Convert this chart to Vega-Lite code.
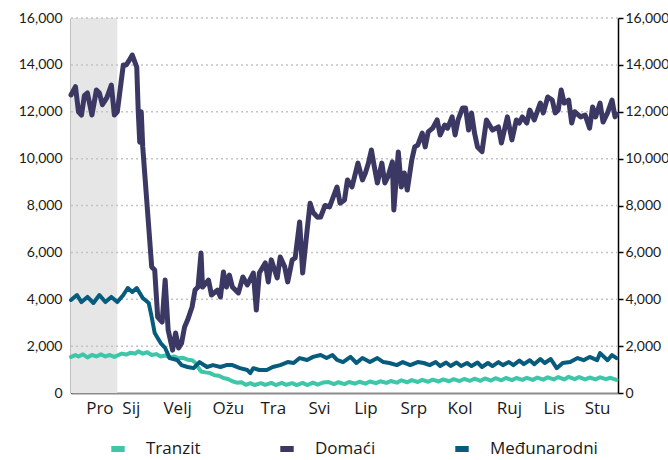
{
  "$schema": "https://vega.github.io/schema/vega-lite/v6.json",
  "width": 547,
  "height": 375,
  "autosize": {"type": "none"},
  "padding": {"left": 71, "top": 18, "right": 50, "bottom": 67},
  "background": "white",
  "config": {
    "view": {"stroke": null},
    "axisX": {"title": null, "grid": false, "ticks": false, "domainColor": "#8c8c8c", "domainWidth": 2, "labelFont": "Open Sans", "labelFontSize": 17, "labelColor": "#1a1a1a", "labelPadding": 7, "labelAngle": 0, "labelOverlap": false, "labelFlush": false},
    "axisY": {"title": null, "grid": false, "labelFont": "Lato", "labelFontSize": 14, "labelColor": "#1a1a1a", "domainColor": "#000000", "domainWidth": 1.5},
    "legend": {"labelFont": "Open Sans", "labelFontSize": 17, "labelColor": "#1a1a1a"}
  },
  "datasets": {
    "tranzit": [
      {"date": "2019-12-01", "value": 1540}, {"date": "2019-12-04", "value": 1620}, {"date": "2019-12-06", "value": 1560}, {"date": "2019-12-09", "value": 1650}, {"date": "2019-12-12", "value": 1520}, {"date": "2019-12-15", "value": 1620}, {"date": "2019-12-18", "value": 1560}, {"date": "2019-12-21", "value": 1650}, {"date": "2019-12-24", "value": 1560}, {"date": "2019-12-27", "value": 1620}, {"date": "2019-12-30", "value": 1540},
      {"date": "2020-01-01", "value": 1600}, {"date": "2020-01-04", "value": 1680}, {"date": "2020-01-07", "value": 1640}, {"date": "2020-01-10", "value": 1720}, {"date": "2020-01-13", "value": 1680}, {"date": "2020-01-15", "value": 1780}, {"date": "2020-01-18", "value": 1680}, {"date": "2020-01-21", "value": 1740}, {"date": "2020-01-24", "value": 1620}, {"date": "2020-01-27", "value": 1660}, {"date": "2020-01-30", "value": 1560},
      {"date": "2020-02-02", "value": 1600}, {"date": "2020-02-05", "value": 1520}, {"date": "2020-02-08", "value": 1560}, {"date": "2020-02-11", "value": 1480}, {"date": "2020-02-14", "value": 1500}, {"date": "2020-02-17", "value": 1420}, {"date": "2020-02-20", "value": 1400}, {"date": "2020-02-22", "value": 1300}, {"date": "2020-02-24", "value": 1100}, {"date": "2020-02-26", "value": 920}, {"date": "2020-02-29", "value": 880},
      {"date": "2020-03-03", "value": 850}, {"date": "2020-03-06", "value": 760}, {"date": "2020-03-09", "value": 740}, {"date": "2020-03-12", "value": 640}, {"date": "2020-03-15", "value": 600}, {"date": "2020-03-18", "value": 500}, {"date": "2020-03-21", "value": 440}, {"date": "2020-03-24", "value": 460}, {"date": "2020-03-27", "value": 350}, {"date": "2020-03-30", "value": 420},
      {"date": "2020-04-02", "value": 340}, {"date": "2020-04-06", "value": 420}, {"date": "2020-04-09", "value": 350}, {"date": "2020-04-13", "value": 430}, {"date": "2020-04-16", "value": 340}, {"date": "2020-04-20", "value": 430}, {"date": "2020-04-23", "value": 350}, {"date": "2020-04-27", "value": 420}, {"date": "2020-04-30", "value": 340},
      {"date": "2020-05-04", "value": 430}, {"date": "2020-05-07", "value": 340}, {"date": "2020-05-11", "value": 440}, {"date": "2020-05-14", "value": 360}, {"date": "2020-05-18", "value": 450}, {"date": "2020-05-21", "value": 470}, {"date": "2020-05-25", "value": 380}, {"date": "2020-05-28", "value": 460},
      {"date": "2020-06-01", "value": 380}, {"date": "2020-06-04", "value": 470}, {"date": "2020-06-08", "value": 400}, {"date": "2020-06-11", "value": 480}, {"date": "2020-06-15", "value": 400}, {"date": "2020-06-18", "value": 490}, {"date": "2020-06-22", "value": 420}, {"date": "2020-06-25", "value": 500}, {"date": "2020-06-29", "value": 430},
      {"date": "2020-07-02", "value": 510}, {"date": "2020-07-06", "value": 440}, {"date": "2020-07-09", "value": 540}, {"date": "2020-07-13", "value": 460}, {"date": "2020-07-16", "value": 550}, {"date": "2020-07-20", "value": 470}, {"date": "2020-07-23", "value": 560}, {"date": "2020-07-27", "value": 480}, {"date": "2020-07-30", "value": 570},
      {"date": "2020-08-03", "value": 490}, {"date": "2020-08-06", "value": 580}, {"date": "2020-08-10", "value": 500}, {"date": "2020-08-13", "value": 590}, {"date": "2020-08-17", "value": 510}, {"date": "2020-08-20", "value": 600}, {"date": "2020-08-24", "value": 520}, {"date": "2020-08-27", "value": 610}, {"date": "2020-08-31", "value": 520},
      {"date": "2020-09-03", "value": 620}, {"date": "2020-09-07", "value": 530}, {"date": "2020-09-10", "value": 630}, {"date": "2020-09-14", "value": 540}, {"date": "2020-09-17", "value": 640}, {"date": "2020-09-21", "value": 550}, {"date": "2020-09-24", "value": 640}, {"date": "2020-09-28", "value": 560},
      {"date": "2020-10-01", "value": 650}, {"date": "2020-10-05", "value": 560}, {"date": "2020-10-08", "value": 660}, {"date": "2020-10-12", "value": 570}, {"date": "2020-10-15", "value": 670}, {"date": "2020-10-19", "value": 580}, {"date": "2020-10-22", "value": 680}, {"date": "2020-10-26", "value": 580}, {"date": "2020-10-29", "value": 690},
      {"date": "2020-11-02", "value": 590}, {"date": "2020-11-05", "value": 680}, {"date": "2020-11-09", "value": 580}, {"date": "2020-11-12", "value": 660}, {"date": "2020-11-16", "value": 580}, {"date": "2020-11-19", "value": 670}, {"date": "2020-11-23", "value": 590}, {"date": "2020-11-26", "value": 650}, {"date": "2020-11-30", "value": 560}
    ],
    "medj": [
      {"date": "2019-12-01", "value": 3970}, {"date": "2019-12-05", "value": 4180}, {"date": "2019-12-08", "value": 3880}, {"date": "2019-12-12", "value": 4100}, {"date": "2019-12-16", "value": 3840}, {"date": "2019-12-20", "value": 4180}, {"date": "2019-12-24", "value": 3880}, {"date": "2019-12-28", "value": 4100},
      {"date": "2020-01-01", "value": 3880}, {"date": "2020-01-05", "value": 4180}, {"date": "2020-01-08", "value": 4480}, {"date": "2020-01-11", "value": 4310}, {"date": "2020-01-14", "value": 4480}, {"date": "2020-01-18", "value": 4050}, {"date": "2020-01-22", "value": 3840}, {"date": "2020-01-24", "value": 3240}, {"date": "2020-01-26", "value": 2560}, {"date": "2020-01-30", "value": 2130},
      {"date": "2020-02-02", "value": 1920}, {"date": "2020-02-05", "value": 1490}, {"date": "2020-02-10", "value": 1410}, {"date": "2020-02-13", "value": 1190}, {"date": "2020-02-17", "value": 1110}, {"date": "2020-02-21", "value": 1060}, {"date": "2020-02-25", "value": 1320},
      {"date": "2020-03-01", "value": 1110}, {"date": "2020-03-05", "value": 1190}, {"date": "2020-03-10", "value": 1110}, {"date": "2020-03-14", "value": 1190}, {"date": "2020-03-18", "value": 1190}, {"date": "2020-03-23", "value": 1060}, {"date": "2020-03-28", "value": 980}, {"date": "2020-03-30", "value": 850},
      {"date": "2020-04-01", "value": 1060}, {"date": "2020-04-05", "value": 980}, {"date": "2020-04-10", "value": 980}, {"date": "2020-04-14", "value": 1110}, {"date": "2020-04-19", "value": 1190}, {"date": "2020-04-24", "value": 1320}, {"date": "2020-04-28", "value": 1280},
      {"date": "2020-05-02", "value": 1490}, {"date": "2020-05-07", "value": 1410}, {"date": "2020-05-11", "value": 1540}, {"date": "2020-05-16", "value": 1620}, {"date": "2020-05-20", "value": 1490}, {"date": "2020-05-24", "value": 1620}, {"date": "2020-05-27", "value": 1410}, {"date": "2020-05-31", "value": 1320},
      {"date": "2020-06-05", "value": 1540}, {"date": "2020-06-09", "value": 1280}, {"date": "2020-06-13", "value": 1490}, {"date": "2020-06-18", "value": 1320}, {"date": "2020-06-23", "value": 1490}, {"date": "2020-06-27", "value": 1320},
      {"date": "2020-07-01", "value": 1280}, {"date": "2020-07-06", "value": 1190}, {"date": "2020-07-10", "value": 1320}, {"date": "2020-07-15", "value": 1190}, {"date": "2020-07-20", "value": 1320}, {"date": "2020-07-24", "value": 1280}, {"date": "2020-07-28", "value": 1190},
      {"date": "2020-08-01", "value": 1320}, {"date": "2020-08-04", "value": 1150}, {"date": "2020-08-08", "value": 1300}, {"date": "2020-08-11", "value": 1150}, {"date": "2020-08-15", "value": 1300}, {"date": "2020-08-18", "value": 1150}, {"date": "2020-08-22", "value": 1280}, {"date": "2020-08-25", "value": 1150}, {"date": "2020-08-29", "value": 1300},
      {"date": "2020-09-01", "value": 1110}, {"date": "2020-09-05", "value": 1280}, {"date": "2020-09-08", "value": 1150}, {"date": "2020-09-12", "value": 1320}, {"date": "2020-09-15", "value": 1190}, {"date": "2020-09-19", "value": 1320}, {"date": "2020-09-22", "value": 1190}, {"date": "2020-09-26", "value": 1380}, {"date": "2020-09-29", "value": 1230},
      {"date": "2020-10-03", "value": 1400}, {"date": "2020-10-06", "value": 1230}, {"date": "2020-10-10", "value": 1450}, {"date": "2020-10-13", "value": 1280}, {"date": "2020-10-17", "value": 1450}, {"date": "2020-10-21", "value": 1060}, {"date": "2020-10-25", "value": 1280}, {"date": "2020-10-30", "value": 1320},
      {"date": "2020-11-04", "value": 1490}, {"date": "2020-11-08", "value": 1400}, {"date": "2020-11-12", "value": 1540}, {"date": "2020-11-17", "value": 1400}, {"date": "2020-11-19", "value": 1700}, {"date": "2020-11-24", "value": 1400}, {"date": "2020-11-27", "value": 1620}, {"date": "2020-11-30", "value": 1490}
    ],
    "domaci": [
      {"date": "2019-12-01", "value": 12715}, {"date": "2019-12-04", "value": 13070}, {"date": "2019-12-06", "value": 12000}, {"date": "2019-12-08", "value": 11860}, {"date": "2019-12-10", "value": 12700}, {"date": "2019-12-12", "value": 12800}, {"date": "2019-12-15", "value": 11860}, {"date": "2019-12-18", "value": 12930}, {"date": "2019-12-20", "value": 12800}, {"date": "2019-12-22", "value": 12300}, {"date": "2019-12-25", "value": 12600}, {"date": "2019-12-28", "value": 13140}, {"date": "2019-12-30", "value": 11860},
      {"date": "2020-01-01", "value": 12000}, {"date": "2020-01-05", "value": 14000}, {"date": "2020-01-07", "value": 14000}, {"date": "2020-01-09", "value": 14200}, {"date": "2020-01-11", "value": 14420}, {"date": "2020-01-14", "value": 13900}, {"date": "2020-01-15", "value": 12000}, {"date": "2020-01-16", "value": 10700}, {"date": "2020-01-17", "value": 12000}, {"date": "2020-01-18", "value": 10500}, {"date": "2020-01-21", "value": 7940}, {"date": "2020-01-24", "value": 5380}, {"date": "2020-01-26", "value": 5250}, {"date": "2020-01-28", "value": 3240}, {"date": "2020-01-31", "value": 3030},
      {"date": "2020-02-02", "value": 4820}, {"date": "2020-02-04", "value": 2690}, {"date": "2020-02-07", "value": 1830}, {"date": "2020-02-09", "value": 2560}, {"date": "2020-02-11", "value": 1920}, {"date": "2020-02-13", "value": 2130}, {"date": "2020-02-15", "value": 2820}, {"date": "2020-02-17", "value": 3110}, {"date": "2020-02-20", "value": 3670}, {"date": "2020-02-22", "value": 4390}, {"date": "2020-02-24", "value": 4520}, {"date": "2020-02-26", "value": 5970}, {"date": "2020-02-27", "value": 4520},
      {"date": "2020-03-02", "value": 4820}, {"date": "2020-03-04", "value": 4180}, {"date": "2020-03-08", "value": 4390}, {"date": "2020-03-10", "value": 4100}, {"date": "2020-03-12", "value": 5160}, {"date": "2020-03-14", "value": 4520}, {"date": "2020-03-16", "value": 5030}, {"date": "2020-03-18", "value": 4520}, {"date": "2020-03-22", "value": 4270}, {"date": "2020-03-25", "value": 4950}, {"date": "2020-03-28", "value": 4610},
      {"date": "2020-04-01", "value": 5120}, {"date": "2020-04-03", "value": 3540}, {"date": "2020-04-05", "value": 5120}, {"date": "2020-04-09", "value": 5550}, {"date": "2020-04-11", "value": 4740}, {"date": "2020-04-13", "value": 5680}, {"date": "2020-04-17", "value": 4910}, {"date": "2020-04-19", "value": 5800}, {"date": "2020-04-22", "value": 5380}, {"date": "2020-04-24", "value": 4740}, {"date": "2020-04-27", "value": 5680}, {"date": "2020-04-29", "value": 5760},
      {"date": "2020-05-02", "value": 7300}, {"date": "2020-05-04", "value": 5120}, {"date": "2020-05-07", "value": 6950}, {"date": "2020-05-09", "value": 8100}, {"date": "2020-05-11", "value": 7700}, {"date": "2020-05-14", "value": 7500}, {"date": "2020-05-16", "value": 7510}, {"date": "2020-05-19", "value": 8000}, {"date": "2020-05-22", "value": 7940}, {"date": "2020-05-27", "value": 8790}, {"date": "2020-05-29", "value": 8100},
      {"date": "2020-06-01", "value": 8240}, {"date": "2020-06-03", "value": 9090}, {"date": "2020-06-06", "value": 8790}, {"date": "2020-06-10", "value": 9810}, {"date": "2020-06-13", "value": 9090}, {"date": "2020-06-15", "value": 9390}, {"date": "2020-06-17", "value": 9810}, {"date": "2020-06-19", "value": 10370}, {"date": "2020-06-21", "value": 9640}, {"date": "2020-06-23", "value": 8960}, {"date": "2020-06-26", "value": 9810}, {"date": "2020-06-28", "value": 8960}, {"date": "2020-06-30", "value": 9220},
      {"date": "2020-07-03", "value": 9860}, {"date": "2020-07-04", "value": 7810}, {"date": "2020-07-07", "value": 10280}, {"date": "2020-07-09", "value": 8790}, {"date": "2020-07-11", "value": 9390}, {"date": "2020-07-13", "value": 8660}, {"date": "2020-07-16", "value": 9940}, {"date": "2020-07-18", "value": 10500}, {"date": "2020-07-20", "value": 10580}, {"date": "2020-07-23", "value": 11090}, {"date": "2020-07-25", "value": 10500}, {"date": "2020-07-27", "value": 11140}, {"date": "2020-07-30", "value": 11300},
      {"date": "2020-08-02", "value": 11650}, {"date": "2020-08-04", "value": 11010}, {"date": "2020-08-07", "value": 11430}, {"date": "2020-08-09", "value": 11300}, {"date": "2020-08-12", "value": 11780}, {"date": "2020-08-14", "value": 11010}, {"date": "2020-08-16", "value": 11650}, {"date": "2020-08-19", "value": 12160}, {"date": "2020-08-21", "value": 12160}, {"date": "2020-08-23", "value": 11220}, {"date": "2020-08-25", "value": 11950}, {"date": "2020-08-27", "value": 11090}, {"date": "2020-08-29", "value": 10500},
      {"date": "2020-09-01", "value": 10300}, {"date": "2020-09-04", "value": 11650}, {"date": "2020-09-08", "value": 11220}, {"date": "2020-09-12", "value": 11350}, {"date": "2020-09-14", "value": 10670}, {"date": "2020-09-18", "value": 11780}, {"date": "2020-09-21", "value": 10800}, {"date": "2020-09-24", "value": 11650}, {"date": "2020-09-26", "value": 11520}, {"date": "2020-09-28", "value": 11780},
      {"date": "2020-10-01", "value": 11520}, {"date": "2020-10-03", "value": 12070}, {"date": "2020-10-06", "value": 11650}, {"date": "2020-10-10", "value": 12370}, {"date": "2020-10-12", "value": 11950}, {"date": "2020-10-15", "value": 12630}, {"date": "2020-10-18", "value": 12500}, {"date": "2020-10-20", "value": 11950}, {"date": "2020-10-22", "value": 12070}, {"date": "2020-10-24", "value": 12930}, {"date": "2020-10-26", "value": 12370}, {"date": "2020-10-29", "value": 12500}, {"date": "2020-10-31", "value": 11520},
      {"date": "2020-11-02", "value": 12000}, {"date": "2020-11-06", "value": 11780}, {"date": "2020-11-09", "value": 11860}, {"date": "2020-11-12", "value": 11300}, {"date": "2020-11-14", "value": 12200}, {"date": "2020-11-16", "value": 11780}, {"date": "2020-11-19", "value": 12370}, {"date": "2020-11-21", "value": 11560}, {"date": "2020-11-24", "value": 11950}, {"date": "2020-11-27", "value": 12500}, {"date": "2020-11-29", "value": 11780}, {"date": "2020-11-30", "value": 11900}
    ]
  },
  "resolve": {"scale": {"y": "independent"}},
  "layer": [
    {
      "data": {"values": [{"start": "2019-12-01", "end": "2020-01-01"}]},
      "mark": {"type": "rect", "color": "#e6e6e6"},
      "encoding": {
        "x": {"field": "start", "type": "temporal", "scale": {"type": "utc", "domain": [{"year": 2019, "month": 12, "date": 1, "utc": true}, {"year": 2020, "month": 12, "date": 1, "utc": true}], "nice": false},
          "axis": {"values": [{"year": 2019, "month": 12, "date": 20, "utc": true}, {"year": 2020, "month": 1, "date": 10, "utc": true}, {"year": 2020, "month": 2, "date": 10, "utc": true}, {"year": 2020, "month": 3, "date": 15, "utc": true}, {"year": 2020, "month": 4, "date": 14, "utc": true}, {"year": 2020, "month": 5, "date": 15, "utc": true}, {"year": 2020, "month": 6, "date": 15, "utc": true}, {"year": 2020, "month": 7, "date": 17, "utc": true}, {"year": 2020, "month": 8, "date": 17, "utc": true}, {"year": 2020, "month": 9, "date": 19, "utc": true}, {"year": 2020, "month": 10, "date": 19, "utc": true}, {"year": 2020, "month": 11, "date": 17, "utc": true}],
            "labelExpr": "['Sij','Velj','Ožu','Tra','Svi','Lip','Srp','Kol','Ruj','Lis','Stu','Pro'][utcmonth(datum.value)]"}},
        "x2": {"field": "end"}
      }
    },
    {
      "data": {"values": [{"v": 2000}, {"v": 4000}, {"v": 6000}, {"v": 8000}, {"v": 10000}, {"v": 12000}, {"v": 14000}, {"v": 16000}]},
      "mark": {"type": "rule", "color": "#c4c4c4", "strokeWidth": 1.5, "strokeDash": [2, 3]},
      "encoding": {
        "y": {"field": "v", "type": "quantitative", "scale": {"domain": [0, 16000], "nice": false}, "axis": null}
      }
    },
    {
      "data": {"name": "tranzit"},
      "mark": {"type": "line", "strokeWidth": 4, "strokeJoin": "round", "strokeCap": "round"},
      "encoding": {
        "x": {"field": "date", "type": "temporal", "scale": {"type": "utc", "domain": [{"year": 2019, "month": 12, "date": 1, "utc": true}, {"year": 2020, "month": 12, "date": 1, "utc": true}], "nice": false},
          "axis": {"values": [{"year": 2019, "month": 12, "date": 20, "utc": true}, {"year": 2020, "month": 1, "date": 10, "utc": true}, {"year": 2020, "month": 2, "date": 10, "utc": true}, {"year": 2020, "month": 3, "date": 15, "utc": true}, {"year": 2020, "month": 4, "date": 14, "utc": true}, {"year": 2020, "month": 5, "date": 15, "utc": true}, {"year": 2020, "month": 6, "date": 15, "utc": true}, {"year": 2020, "month": 7, "date": 17, "utc": true}, {"year": 2020, "month": 8, "date": 17, "utc": true}, {"year": 2020, "month": 9, "date": 19, "utc": true}, {"year": 2020, "month": 10, "date": 19, "utc": true}, {"year": 2020, "month": 11, "date": 17, "utc": true}],
            "labelExpr": "['Sij','Velj','Ožu','Tra','Svi','Lip','Srp','Kol','Ruj','Lis','Stu','Pro'][utcmonth(datum.value)]"}},
        "y": {"field": "value", "type": "quantitative", "scale": {"domain": [0, 16000], "nice": false}, "axis": null},
        "color": {"datum": "Tranzit", "type": "nominal", "scale": {"domain": ["Tranzit", "Domaći", "Međunarodni"], "range": ["#3ec6a8", "#3b3964", "#075b7c"]},
          "legend": {"title": null, "orient": "none", "legendX": 37, "legendY": 421, "direction": "horizontal", "symbolType": "stroke", "symbolStrokeWidth": 6, "symbolSize": 180, "labelOffset": 18, "columnPadding": 67, "padding": 0}}
      }
    },
    {
      "data": {"name": "medj"},
      "mark": {"type": "line", "strokeWidth": 4, "strokeJoin": "round", "strokeCap": "round"},
      "encoding": {
        "x": {"field": "date", "type": "temporal", "scale": {"type": "utc", "domain": [{"year": 2019, "month": 12, "date": 1, "utc": true}, {"year": 2020, "month": 12, "date": 1, "utc": true}], "nice": false},
          "axis": {"values": [{"year": 2019, "month": 12, "date": 20, "utc": true}, {"year": 2020, "month": 1, "date": 10, "utc": true}, {"year": 2020, "month": 2, "date": 10, "utc": true}, {"year": 2020, "month": 3, "date": 15, "utc": true}, {"year": 2020, "month": 4, "date": 14, "utc": true}, {"year": 2020, "month": 5, "date": 15, "utc": true}, {"year": 2020, "month": 6, "date": 15, "utc": true}, {"year": 2020, "month": 7, "date": 17, "utc": true}, {"year": 2020, "month": 8, "date": 17, "utc": true}, {"year": 2020, "month": 9, "date": 19, "utc": true}, {"year": 2020, "month": 10, "date": 19, "utc": true}, {"year": 2020, "month": 11, "date": 17, "utc": true}],
            "labelExpr": "['Sij','Velj','Ožu','Tra','Svi','Lip','Srp','Kol','Ruj','Lis','Stu','Pro'][utcmonth(datum.value)]"}},
        "y": {"field": "value", "type": "quantitative", "scale": {"domain": [0, 16000], "nice": false},
          "axis": {"orient": "left", "values": [0, 2000, 4000, 6000, 8000, 10000, 12000, 14000, 16000], "format": ",.0f", "ticks": false, "labelPadding": 9}},
        "color": {"datum": "Međunarodni", "type": "nominal", "scale": {"domain": ["Tranzit", "Domaći", "Međunarodni"], "range": ["#3ec6a8", "#3b3964", "#075b7c"]},
          "legend": {"title": null, "orient": "none", "legendX": 37, "legendY": 421, "direction": "horizontal", "symbolType": "stroke", "symbolStrokeWidth": 6, "symbolSize": 180, "labelOffset": 18, "columnPadding": 67, "padding": 0}}
      }
    },
    {
      "data": {"name": "domaci"},
      "mark": {"type": "line", "strokeWidth": 5, "strokeJoin": "round", "strokeCap": "round"},
      "encoding": {
        "x": {"field": "date", "type": "temporal", "scale": {"type": "utc", "domain": [{"year": 2019, "month": 12, "date": 1, "utc": true}, {"year": 2020, "month": 12, "date": 1, "utc": true}], "nice": false},
          "axis": {"values": [{"year": 2019, "month": 12, "date": 20, "utc": true}, {"year": 2020, "month": 1, "date": 10, "utc": true}, {"year": 2020, "month": 2, "date": 10, "utc": true}, {"year": 2020, "month": 3, "date": 15, "utc": true}, {"year": 2020, "month": 4, "date": 14, "utc": true}, {"year": 2020, "month": 5, "date": 15, "utc": true}, {"year": 2020, "month": 6, "date": 15, "utc": true}, {"year": 2020, "month": 7, "date": 17, "utc": true}, {"year": 2020, "month": 8, "date": 17, "utc": true}, {"year": 2020, "month": 9, "date": 19, "utc": true}, {"year": 2020, "month": 10, "date": 19, "utc": true}, {"year": 2020, "month": 11, "date": 17, "utc": true}],
            "labelExpr": "['Sij','Velj','Ožu','Tra','Svi','Lip','Srp','Kol','Ruj','Lis','Stu','Pro'][utcmonth(datum.value)]"}},
        "y": {"field": "value", "type": "quantitative", "scale": {"domain": [0, 16000], "nice": false},
          "axis": {"orient": "right", "values": [0, 2000, 4000, 6000, 8000, 10000, 12000, 14000, 16000], "format": ",.0f", "ticks": true, "tickSize": 5, "tickColor": "#000000", "tickWidth": 1.5, "labelPadding": 2}},
        "color": {"datum": "Domaći", "type": "nominal", "scale": {"domain": ["Tranzit", "Domaći", "Međunarodni"], "range": ["#3ec6a8", "#3b3964", "#075b7c"]},
          "legend": {"title": null, "orient": "none", "legendX": 37, "legendY": 421, "direction": "horizontal", "symbolType": "stroke", "symbolStrokeWidth": 6, "symbolSize": 180, "labelOffset": 18, "columnPadding": 67, "padding": 0}}
      }
    }
  ]
}
